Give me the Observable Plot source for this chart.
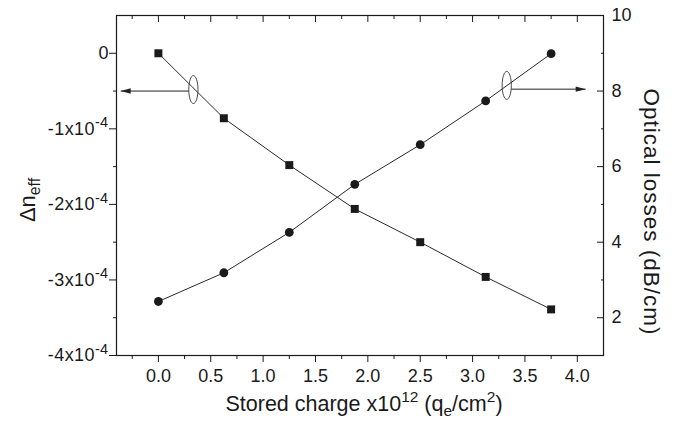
<!DOCTYPE html>
<html><head><meta charset="utf-8">
<script src="https://cdn.jsdelivr.net/npm/d3@7"></script>
<script src="https://cdn.jsdelivr.net/npm/@observablehq/plot@0.6"></script>
<style>
body{margin:0;background:#fff;}
svg{font-family:"Liberation Sans",Arial,sans-serif;}
</style></head><body><div id="chart"></div>
<script>
// ---- data ----
const charge = [0, 0.625, 1.25, 1.875, 2.5, 3.125, 3.75];        // x10^12 qe/cm^2
const deltaNeff = [0, -0.86e-4, -1.48e-4, -2.06e-4, -2.50e-4, -2.96e-4, -3.39e-4];
const losses = [2.43, 3.19, 4.26, 5.53, 6.58, 7.74, 8.99];       // dB/cm

const xTicks = [0, 0.5, 1, 1.5, 2, 2.5, 3, 3.5, 4];
const xMinorTicks = [-0.25, 0.25, 0.75, 1.25, 1.75, 2.25, 2.75, 3.25, 3.75];
const leftTicks = [0, -1e-4, -2e-4, -3e-4, -4e-4];
const leftMinorTicks = [-0.5e-4, -1.5e-4, -2.5e-4, -3.5e-4];
const rightTicks = [2, 4, 6, 8, 10];
const rightMinorTicks = [3, 5, 7, 9];

const xDomain = [-0.4, 4.25];
const leftDomain = [-4e-4, 0.5e-4];
const rightDomain = [1, 10];

// annotation ovals and arrows (data units)
const leftOval = {charge: 0.334, dn: -0.48e-4};
const rightOval = {charge: 3.326, loss: 8.15};
const leftArrow = {from: 0.29, to: -0.36, dn: -0.5e-4};
const rightArrow = {from: 3.37, to: 4.08, loss: 8.05};

// map right-axis values into left-axis units
const toLeft = v => leftDomain[0] + (v - rightDomain[0]) / (rightDomain[1] - rightDomain[0]) * (leftDomain[1] - leftDomain[0]);
const fromLeft = y => rightDomain[0] + (y - leftDomain[0]) / (leftDomain[1] - leftDomain[0]) * (rightDomain[1] - rightDomain[0]);

const dnData = charge.map((c, i) => ({charge: c, dn: deltaNeff[i]}));
const lossData = charge.map((c, i) => ({charge: c, y: toLeft(losses[i])}));

const ovalSymbol = {draw(ctx) {
  const rx = 4.6, ry = 14, k = 0.5523;
  ctx.moveTo(rx, 0);
  ctx.bezierCurveTo(rx, ry * k, rx * k, ry, 0, ry);
  ctx.bezierCurveTo(-rx * k, ry, -rx, ry * k, -rx, 0);
  ctx.bezierCurveTo(-rx, -ry * k, -rx * k, -ry, 0, -ry);
  ctx.bezierCurveTo(rx * k, -ry, rx, -ry * k, rx, 0);
  ctx.closePath();
}};
const headLeft = {draw(ctx) { ctx.moveTo(0, 0); ctx.lineTo(10, -2.7); ctx.lineTo(10, 2.7); ctx.closePath(); }};
const headRight = {draw(ctx) { ctx.moveTo(0, 0); ctx.lineTo(-10, -2.7); ctx.lineTo(-10, 2.7); ctx.closePath(); }};

const leftFmt = v => v === 0 ? "0" : `${Math.round(v / 1e-4)}x10^-4`;

const ink = "#1a1a1a";
const tickFont = 18;

const svg = Plot.plot({
  width: 675, height: 421,
  marginLeft: 116, marginRight: 72, marginTop: 15, marginBottom: 66,
  x: {domain: xDomain},
  y: {domain: leftDomain},
  style: {fontFamily: '"Liberation Sans", Arial, sans-serif', fontSize: tickFont + "px", color: ink, background: "#fff"},
  marks: [
    // bottom axis
    Plot.axisX({anchor: "bottom", ticks: xTicks, tickSize: 7, tickPadding: 7, tickFormat: d3.format(".1f"), label: null}),
    Plot.axisX({anchor: "bottom", ticks: xMinorTicks, tickSize: 4, fill: "none", label: null}),
    // top (inward)
    Plot.axisX({anchor: "top", ticks: xTicks, tickSize: -6, fill: "none", label: null}),
    Plot.axisX({anchor: "top", ticks: xMinorTicks, tickSize: -3, fill: "none", label: null}),
    // left axis
    Plot.axisY({anchor: "left", ticks: leftTicks, tickSize: 7, tickPadding: 1, tickFormat: leftFmt, label: null}),
    Plot.axisY({anchor: "left", ticks: leftMinorTicks, tickSize: 3, fill: "none", label: null}),
    // right axis (inward ticks)
    Plot.axisY({anchor: "right", ticks: rightTicks.map(toLeft), tickSize: -7, fill: "none", label: null}),
    Plot.axisY({anchor: "right", ticks: rightMinorTicks.map(toLeft), tickSize: -3, fill: "none", label: null}),
    Plot.axisY({anchor: "right", ticks: rightTicks.map(toLeft), tickSize: 0, tickPadding: 8, stroke: "none", tickFormat: y => String(Math.round(fromLeft(y))), label: null}),
    Plot.frame({stroke: ink, strokeWidth: 1.2}),
    // series
    Plot.line(dnData, {x: "charge", y: "dn", stroke: "#2a2a2a", strokeWidth: 1}),
    Plot.dot(dnData, {x: "charge", y: "dn", symbol: "square", r: 4.5, fill: ink, stroke: "none"}),
    Plot.line(lossData, {x: "charge", y: "y", stroke: "#2a2a2a", strokeWidth: 1}),
    Plot.dot(lossData, {x: "charge", y: "y", symbol: "circle", r: 4.4, fill: ink, stroke: "none"}),
    // annotations
    Plot.dot([leftOval], {x: "charge", y: "dn", symbol: ovalSymbol, r: 1, fill: "none", stroke: "#333", strokeWidth: 0.9}),
    Plot.dot([rightOval], {x: "charge", y: d => toLeft(d.loss), symbol: ovalSymbol, r: 1, fill: "none", stroke: "#333", strokeWidth: 0.9}),
    Plot.link([leftArrow], {x1: "from", x2: "to", y1: "dn", y2: "dn", stroke: "#222", strokeWidth: 1}),
    Plot.dot([leftArrow], {x: "to", y: "dn", symbol: headLeft, r: 1, fill: "#222", stroke: "none"}),
    Plot.link([rightArrow], {x1: "from", x2: "to", y1: d => toLeft(d.loss), y2: d => toLeft(d.loss), stroke: "#222", strokeWidth: 1}),
    Plot.dot([rightArrow], {x: "to", y: d => toLeft(d.loss), symbol: headRight, r: 1, fill: "#222", stroke: "none"})
  ]
});

document.getElementById("chart").appendChild(svg);

const NS = "http://www.w3.org/2000/svg";
function rich(el, parts, size, supScale = 0.72) {
  let shift = 0;
  for (const [str, kind] of parts) {
    const t = document.createElementNS(NS, "tspan");
    let target = kind === "sup" ? -0.42 * size : kind === "sub" ? 0.24 * size : 0;
    t.setAttribute("dy", (target - shift).toFixed(2));
    shift = target;
    if (kind) t.setAttribute("font-size", (supScale * size).toFixed(1));
    t.textContent = str;
    el.appendChild(t);
  }
}

// superscripts in left tick labels
svg.querySelectorAll("text").forEach(t => {
  const m = t.textContent.match(/^(-?\d+)x10\^(-?\d+)$/);
  if (m) {
    t.textContent = "";
    t.setAttribute("letter-spacing", "0.4");
    rich(t, [[m[1] + "x10"], [m[2], "sup"]], tickFont, 0.8);
  }
});

function addTitle(x, y, rotate, parts, size, spacing = 0) {
  const t = document.createElementNS(NS, "text");
  t.setAttribute("transform", `translate(${x},${y}) rotate(${rotate})`);
  t.setAttribute("text-anchor", "middle");
  t.setAttribute("font-size", size);
  t.setAttribute("fill", ink);
  if (spacing) t.setAttribute("letter-spacing", spacing);
  rich(t, parts, size);
  svg.appendChild(t);
}
addTitle(364, 411, 0, [["Stored charge x10"], ["12", "sup"], [" (q"], ["e", "sub"], ["/cm"], ["2", "sup"], [")"]], 21.5);
addTitle(35, 200, -90, [["\u0394n"], ["eff", "sub"]], 22);
addTitle(644, 212, 90, [["Optical losses (dB/cm)"]], 22.5, 1);
</script></body></html>
